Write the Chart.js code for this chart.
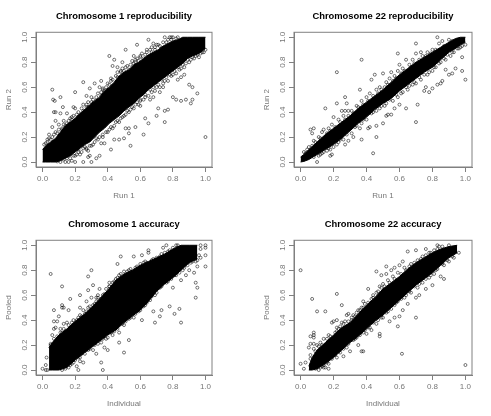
<!DOCTYPE html>
<html>
<head>
<meta charset="utf-8">
<script src="https://cdn.jsdelivr.net/npm/chart.js@4"></script>
<style>
  html, body { margin: 0; background: #fff; overflow: hidden; }
  #wrap { position: relative; width: 491px; height: 416px; filter: blur(0.3px); }
  .cell { position: absolute; width: 245px; height: 208px; }
</style>
</head>
<body>
<div id="wrap">
  <div class="cell" style="left:0;top:0"><canvas id="c1"></canvas></div>
  <div class="cell" style="left:245px;top:0;width:246px"><canvas id="c2"></canvas></div>
  <div class="cell" style="left:0;top:208px"><canvas id="c3"></canvas></div>
  <div class="cell" style="left:245px;top:208px;width:246px"><canvas id="c4"></canvas></div>
</div>
<script>
const ticks = [0, 0.2, 0.4, 0.6, 0.8, 1];

// solid core of each cloud: x, top edge, bottom edge
const rep1X = [0, 0.02, 0.05, 0.08, 0.11, 0.14, 0.17, 0.2, 0.23, 0.26, 0.29, 0.32, 0.35, 0.38, 0.41, 0.44, 0.47, 0.5, 0.53, 0.56, 0.59, 0.62, 0.65, 0.68, 0.71, 0.74, 0.77, 0.8, 0.83, 0.86, 0.89, 0.92, 0.96, 1];
const rep1Top = [0.1, 0.13, 0.16, 0.19, 0.24, 0.29, 0.32, 0.35, 0.39, 0.42, 0.46, 0.49, 0.52, 0.57, 0.6, 0.64, 0.69, 0.72, 0.74, 0.78, 0.8, 0.83, 0.86, 0.88, 0.9, 0.93, 0.95, 0.97, 0.98, 1, 1, 1, 1, 1];
const rep1Low = [0, 0, 0, 0, 0.01, 0.03, 0.05, 0.08, 0.11, 0.14, 0.16, 0.2, 0.24, 0.27, 0.31, 0.34, 0.37, 0.41, 0.44, 0.47, 0.51, 0.54, 0.58, 0.61, 0.64, 0.67, 0.7, 0.73, 0.76, 0.79, 0.83, 0.85, 0.87, 0.91];

const rep22X = [0, 0.02, 0.05, 0.1, 0.15, 0.2, 0.25, 0.3, 0.35, 0.4, 0.45, 0.5, 0.55, 0.6, 0.65, 0.7, 0.75, 0.8, 0.85, 0.9, 0.94, 0.97, 1];
const rep22Top = [0.04, 0.06, 0.1, 0.16, 0.22, 0.27, 0.32, 0.37, 0.43, 0.48, 0.53, 0.58, 0.64, 0.7, 0.75, 0.8, 0.84, 0.88, 0.92, 0.96, 0.99, 1, 1];
const rep22Low = [0, 0.005, 0.02, 0.06, 0.1, 0.14, 0.19, 0.25, 0.31, 0.36, 0.42, 0.47, 0.51, 0.57, 0.62, 0.67, 0.72, 0.76, 0.82, 0.88, 0.91, 0.94, 0.96];

const acc1X = [0.04, 0.06, 0.1, 0.15, 0.2, 0.25, 0.3, 0.35, 0.4, 0.45, 0.5, 0.55, 0.6, 0.65, 0.7, 0.75, 0.8, 0.85, 0.9, 0.95];
const acc1Top = [0.18, 0.22, 0.28, 0.33, 0.39, 0.44, 0.5, 0.57, 0.64, 0.72, 0.77, 0.8, 0.84, 0.87, 0.9, 0.93, 0.97, 1, 1, 1];
const acc1Low = [0, 0, 0, 0.02, 0.08, 0.13, 0.18, 0.23, 0.28, 0.32, 0.38, 0.43, 0.48, 0.55, 0.63, 0.69, 0.74, 0.8, 0.86, 0.89];

const acc22X = [0.05, 0.07, 0.1, 0.15, 0.2, 0.25, 0.3, 0.35, 0.4, 0.45, 0.5, 0.55, 0.6, 0.65, 0.7, 0.75, 0.8, 0.85, 0.9, 0.95];
const acc22Top = [0.03, 0.1, 0.16, 0.22, 0.28, 0.34, 0.38, 0.45, 0.52, 0.58, 0.65, 0.7, 0.75, 0.81, 0.86, 0.9, 0.94, 0.97, 0.99, 1];
const acc22Low = [0, 0, 0.01, 0.05, 0.1, 0.16, 0.22, 0.27, 0.33, 0.39, 0.44, 0.5, 0.56, 0.62, 0.68, 0.73, 0.78, 0.84, 0.9, 0.94];

// individual points
const rep1Points = [
  [0.06,0.58],[0.065,0.5],[0.075,0.49],[0.11,0.52],[0.125,0.44],[0.07,0.4],[0.08,0.4],[0.11,0.39],[0.15,0.39],[0.19,0.44],[0.2,0.43],[0.2,0.56],[0.25,0.64],[0.29,0.59],[0.32,0.63],[0.36,0.65],[0.35,0.6],[0.37,0.59],[0.42,0.67],[0.41,0.85],[0.44,0.82],[0.43,0.77],[0.46,0.76],[0.49,0.8],[0.51,0.9],[0.56,0.85],[0.58,0.94],[0.57,0.82],[0.6,0.84],[0.65,0.98],[0.66,0.85],[0.68,0.95],[0.7,0.94],[0.72,0.93],[0.75,1],[0.78,1],[0.8,1],[0.83,1],[0.3,0.52],[0.25,0.46],[0.27,0.46],[0.27,0.53],[0.17,0.35],[0.13,0.33],[0.08,0.33],[0.06,0.28],[0.1,0.3],[0.04,0.22],[0.03,0.18],[0.02,0.15],
  [1,0.2],[0.95,0.55],[0.85,0.49],[0.88,0.5],[0.91,0.47],[0.92,0.5],[0.9,0.62],[0.92,0.6],[0.8,0.52],[0.82,0.5],[0.75,0.32],[0.77,0.42],[0.75,0.41],[0.71,0.43],[0.7,0.37],[0.62,0.22],[0.63,0.35],[0.65,0.31],[0.54,0.13],[0.53,0.23],[0.53,0.27],[0.51,0.27],[0.57,0.28],[0.42,0.1],[0.47,0.18],[0.44,0.18],[0.5,0.19],[0.38,0.15],[0.36,0.15],[0.35,0.05],[0.33,0.03],[0.3,0],[0.29,0.05],[0.28,0.04],[0.25,0],[0.2,0],[0.16,0],[0.18,0.01],[0.23,0.06],[0.21,0.06],[0.28,0.09],[0.27,0.11],
  [0.05,0.18],[0.08,0.24],[0.12,0.27],[0.14,0.29],[0.16,0.3],[0.18,0.34],[0.22,0.36],[0.24,0.38],[0.26,0.41],[0.28,0.44],[0.31,0.47],[0.33,0.49],[0.36,0.53],[0.38,0.57],[0.41,0.62],[0.43,0.61],[0.46,0.68],[0.48,0.72],[0.5,0.73],[0.53,0.74],[0.56,0.79],[0.59,0.81],[0.62,0.83],[0.64,0.88],[0.67,0.88],[0.69,0.9],[0.73,0.91],[0.76,0.96],[0.79,0.98],[0.82,0.99],
  [0.12,0.05],[0.17,0.06],[0.22,0.1],[0.26,0.12],[0.31,0.14],[0.33,0.19],[0.37,0.22],[0.4,0.24],[0.43,0.27],[0.46,0.33],[0.49,0.36],[0.52,0.41],[0.55,0.44],[0.58,0.48],[0.6,0.5],[0.63,0.54],[0.66,0.58],[0.68,0.6],[0.71,0.62],[0.73,0.66],[0.76,0.68],[0.78,0.7],[0.81,0.73],[0.83,0.76],[0.86,0.78],[0.89,0.82],[0.92,0.84],[0.95,0.86],[0.98,0.88],[0.72,0.56],[0.74,0.6],[0.68,0.52],[0.6,0.45],[0.66,0.5],[0.85,0.68],[0.87,0.7],[0.83,0.66],
  [0.01,0.14],[0.03,0.16],[0.04,0.19],[0.06,0.2],[0.07,0.22],[0.09,0.23],[0.1,0.26],[0.12,0.26],[0.13,0.3],[0.15,0.31],[0.16,0.33],[0.18,0.36],[0.19,0.37],[0.21,0.38],[0.22,0.4],[0.24,0.43],[0.25,0.41],[0.27,0.44],[0.28,0.48],[0.3,0.48],[0.31,0.5],[0.33,0.52],[0.34,0.55],[0.36,0.56],[0.37,0.58],[0.39,0.6],[0.4,0.63],[0.42,0.65],[0.43,0.66],[0.45,0.69],[0.46,0.72],[0.48,0.73],[0.49,0.75],[0.51,0.76],[0.52,0.77],[0.54,0.78],[0.55,0.81],[0.57,0.8],[0.58,0.83],[0.6,0.85],[0.61,0.87],[0.63,0.86],[0.64,0.9],[0.66,0.9],[0.67,0.92],[0.69,0.92],[0.71,0.94],[0.74,0.96],[0.77,0.98],[0.79,1],
  [0.09,0.005],[0.11,0],[0.13,0.02],[0.14,0],[0.15,0.03],[0.17,0.03],[0.19,0.05],[0.2,0.05],[0.22,0.08],[0.24,0.08],[0.25,0.11],[0.27,0.1],[0.29,0.13],[0.3,0.13],[0.32,0.16],[0.34,0.18],[0.35,0.2],[0.37,0.2],[0.39,0.24],[0.41,0.26],[0.42,0.28],[0.44,0.29],[0.45,0.32],[0.47,0.32],[0.48,0.35],[0.5,0.37],[0.51,0.38],[0.53,0.4],[0.54,0.42],[0.56,0.43],[0.57,0.46],[0.59,0.46],[0.6,0.49],[0.62,0.5],[0.63,0.52],[0.65,0.53],[0.67,0.56],[0.69,0.57],[0.7,0.6],[0.72,0.6],[0.74,0.63],[0.75,0.65],[0.77,0.65],[0.79,0.69],[0.8,0.7],[0.82,0.71],[0.84,0.74],[0.85,0.75],[0.87,0.76],[0.88,0.79],[0.9,0.8],[0.91,0.82],[0.93,0.83],[0.94,0.85],[0.96,0.84],[0.97,0.87],[0.99,0.88],[1,0.9]
];

const rep22Points = [
  [0.37,0.82],[0.22,0.72],[0.59,0.87],[0.7,0.95],[0.83,1],[0.7,0.32],[0.71,0.46],[0.44,0.07],[0.1,0],[0.46,0.2],[0.37,0.18],[0.15,0.43],[0.06,0.26],[0.08,0.27],[0.07,0.23],[1,0.66],[0.98,0.73],[0.94,0.75],[0.98,0.84],[0.5,0.31],[0.55,0.38],[0.57,0.43],[0.64,0.43],[0.75,0.57],[0.76,0.6],[0.78,0.56],[0.8,0.59],[0.83,0.62],[0.85,0.63],[0.86,0.65],[0.9,0.7],[0.92,0.71],[0.88,0.74],[0.36,0.58],[0.43,0.66],[0.45,0.7],[0.5,0.71],[0.55,0.72],[0.59,0.73],[0.64,0.82],[0.6,0.78],[0.7,0.87],[0.73,0.88],[0.22,0.47],[0.27,0.52],[0.28,0.47],[0.29,0.41],[0.25,0.41],[0.27,0.41],[0.2,0.36],[0.18,0.1],[0.19,0.06],[0.18,0.05],[0.27,0.14],[0.29,0.17],[0.32,0.2],[0.36,0.27],[0.41,0.27],[0.42,0.28],[0.46,0.29],[0.53,0.38],[0.52,0.37],[0.6,0.46],
  [0.03,0.07],[0.05,0.12],[0.08,0.17],[0.11,0.2],[0.13,0.24],[0.14,0.26],[0.17,0.27],[0.19,0.3],[0.23,0.34],[0.26,0.37],[0.31,0.41],[0.34,0.45],[0.37,0.49],[0.4,0.52],[0.42,0.55],[0.46,0.58],[0.48,0.6],[0.52,0.64],[0.54,0.67],[0.57,0.69],[0.62,0.75],[0.66,0.78],[0.68,0.82],[0.74,0.85],[0.77,0.88],[0.8,0.9],[0.84,0.95],[0.86,0.97],[0.9,0.98],
  [0.08,0.04],[0.12,0.06],[0.14,0.08],[0.17,0.11],[0.22,0.14],[0.24,0.18],[0.28,0.22],[0.33,0.28],[0.38,0.34],[0.43,0.39],[0.48,0.43],[0.51,0.45],[0.56,0.49],[0.59,0.52],[0.62,0.56],[0.65,0.58],[0.68,0.62],[0.7,0.63],[0.73,0.66],[0.77,0.7],[0.8,0.73],[0.82,0.76],[0.85,0.8],[0.88,0.82],[0.91,0.85],[0.93,0.88],[0.96,0.91],[0.98,0.93],[1,0.94],
  [0.02,0.08],[0.04,0.1],[0.07,0.13],[0.09,0.16],[0.12,0.19],[0.16,0.23],[0.18,0.25],[0.21,0.28],[0.24,0.32],[0.27,0.34],[0.29,0.37],[0.32,0.39],[0.35,0.44],[0.38,0.46],[0.41,0.49],[0.44,0.53],[0.47,0.55],[0.49,0.58],[0.51,0.6],[0.53,0.62],[0.56,0.65],[0.58,0.67],[0.61,0.71],[0.63,0.73],[0.67,0.76],[0.69,0.79],[0.72,0.82],[0.76,0.85],[0.79,0.87],[0.82,0.9],[0.87,0.93],[0.92,0.97],
  [0.11,0.05],[0.13,0.07],[0.16,0.09],[0.2,0.12],[0.23,0.16],[0.26,0.18],[0.31,0.23],[0.34,0.29],[0.37,0.31],[0.4,0.34],[0.44,0.4],[0.46,0.41],[0.49,0.45],[0.52,0.47],[0.54,0.5],[0.58,0.54],[0.61,0.55],[0.64,0.6],[0.66,0.61],[0.69,0.64],[0.72,0.68],[0.75,0.7],[0.78,0.72],[0.81,0.76],[0.84,0.79],[0.87,0.83],[0.89,0.86],[0.92,0.88],[0.95,0.91],[0.97,0.92]
];

const acc1Points = [
  [0.05,0.77],[0.12,0.67],[0.3,0.8],[0.28,0.75],[0.17,0.57],[0.23,0.6],[0.28,0.64],[0.31,0.68],[0.35,0.65],[0.41,0.67],[0.41,0.7],[0.45,0.73],[0.46,0.85],[0.48,0.91],[0.56,0.91],[0.61,0.92],[0.65,0.96],[0.65,0.94],[0.74,0.98],[0.76,1],[0.83,1],[0.97,1],[1,1],[1,0.98],[0.97,0.97],[1,0.92],[1,0.83],[0.95,0.83],[0.94,0.7],[0.95,0.66],[0.94,0.58],[0.85,0.38],[0.84,0.49],[0.81,0.45],[0.78,0.51],[0.69,0.38],[0.72,0.43],[0.73,0.48],[0.68,0.47],[0.61,0.4],[0.5,0.14],[0.47,0.22],[0.53,0.24],[0.4,0.16],[0.37,0],[0.36,0.06],[0.33,0.13],[0.38,0.18],[0.22,0],[0.21,0.03],[0.23,0.07],[0.25,0.06],[0,0.01],[0.02,0],[0.03,0],[0.02,0.04],[0.025,0.1],[0.05,0.2],[0.05,0.18],[0.06,0.28],[0.07,0.33],[0.08,0.34],[0.07,0.39],[0.07,0.48],[0.12,0.5],[0.12,0.52],[0.13,0.5],[0.16,0.48],[0.1,0.43],[0.09,0.39],[0.11,0.33],[0.13,0.37],[0.15,0.38],[0.23,0.5],[0.25,0.48],[0.27,0.55],[0.3,0.58],[0.33,0.58],[0.34,0.6],
  [0.09,0.27],[0.12,0.3],[0.17,0.34],[0.19,0.4],[0.22,0.42],[0.26,0.45],[0.29,0.51],[0.32,0.53],[0.36,0.57],[0.38,0.61],[0.42,0.64],[0.44,0.71],[0.47,0.76],[0.5,0.79],[0.53,0.8],[0.57,0.82],[0.6,0.85],[0.63,0.87],[0.67,0.88],[0.7,0.9],[0.73,0.93],[0.77,0.95],[0.8,0.98],[0.83,0.98],
  [0.17,0.04],[0.2,0.08],[0.24,0.13],[0.28,0.16],[0.32,0.2],[0.36,0.22],[0.4,0.26],[0.43,0.28],[0.47,0.3],[0.5,0.36],[0.53,0.41],[0.56,0.42],[0.59,0.47],[0.63,0.52],[0.66,0.56],[0.69,0.6],[0.72,0.66],[0.76,0.7],[0.79,0.73],[0.82,0.76],[0.86,0.8],[0.89,0.84],[0.92,0.87],[0.95,0.88],[0.97,0.9],[0.85,0.72],[0.88,0.76],[0.9,0.8],[0.93,0.78],[0.8,0.66],
  [0.05,0.21],[0.07,0.25],[0.08,0.23],[0.11,0.3],[0.13,0.33],[0.14,0.31],[0.16,0.36],[0.18,0.38],[0.21,0.4],[0.23,0.44],[0.24,0.43],[0.27,0.47],[0.28,0.5],[0.31,0.52],[0.33,0.55],[0.34,0.58],[0.37,0.6],[0.39,0.65],[0.41,0.67],[0.43,0.7],[0.46,0.74],[0.48,0.77],[0.52,0.79],[0.54,0.81],[0.58,0.83],[0.62,0.86],[0.64,0.86],[0.68,0.89],[0.72,0.91],[0.75,0.94],[0.78,0.96],[0.82,1],
  [0.12,0],[0.14,0.01],[0.16,0.02],[0.18,0.05],[0.19,0.06],[0.22,0.1],[0.23,0.1],[0.26,0.13],[0.29,0.17],[0.31,0.16],[0.34,0.21],[0.37,0.25],[0.39,0.25],[0.42,0.3],[0.44,0.31],[0.46,0.33],[0.49,0.37],[0.51,0.39],[0.54,0.42],[0.57,0.45],[0.6,0.48],[0.62,0.51],[0.64,0.54],[0.67,0.59],[0.7,0.62],[0.73,0.67],[0.77,0.71],[0.81,0.76],[0.84,0.78],[0.87,0.82],[0.91,0.86],[0.94,0.87],[0.96,0.92]
];

const acc22Points = [
  [0,0.8],[0,0.05],[1,0.04],[0.07,0.57],[0.1,0.47],[0.15,0.47],[0.22,0.61],[0.25,0.52],[0.7,0.42],[0.615,0.13],[0.46,0.79],[0.52,0.83],[0.59,0.35],[0.57,0.42],[0.87,0.73],[0.65,0.95],[0.7,0.96],[0.76,0.97],[0.83,1],[0.02,0.01],[0.03,0.06],[0.06,0.27],[0.08,0.3],[0.08,0.28],[0.08,0.26],[0.06,0.21],[0.08,0.21],[0.05,0.18],[0.17,0.01],[0.15,0.02],[0.14,0.02],[0.19,0.38],[0.2,0.39],[0.22,0.34],[0.22,0.4],[0.25,0.38],[0.28,0.44],[0.29,0.45],[0.31,0.42],[0.35,0.48],[0.38,0.55],[0.41,0.65],[0.44,0.6],[0.49,0.76],[0.52,0.77],[0.55,0.8],[0.57,0.82],[0.6,0.84],[0.62,0.87],[0.48,0.29],[0.48,0.27],[0.43,0.32],[0.4,0.29],[0.35,0.2],[0.37,0.15],[0.38,0.15],[0.3,0.15],[0.26,0.11],[0.54,0.39],[0.6,0.43],[0.62,0.48],[0.65,0.53],[0.7,0.58],[0.72,0.6],[0.76,0.65],[0.8,0.68],[0.85,0.75],
  [0.06,0.12],[0.08,0.17],[0.1,0.2],[0.12,0.22],[0.14,0.25],[0.17,0.28],[0.21,0.3],[0.24,0.35],[0.27,0.39],[0.32,0.44],[0.34,0.46],[0.37,0.5],[0.39,0.53],[0.43,0.57],[0.46,0.62],[0.48,0.67],[0.5,0.69],[0.53,0.72],[0.56,0.75],[0.59,0.78],[0.63,0.82],[0.67,0.85],[0.71,0.88],[0.74,0.91],[0.78,0.94],[0.81,0.96],[0.84,0.99],
  [0.11,0],[0.13,0.03],[0.17,0.05],[0.22,0.1],[0.24,0.14],[0.28,0.18],[0.33,0.25],[0.38,0.3],[0.42,0.34],[0.46,0.37],[0.5,0.42],[0.53,0.47],[0.57,0.52],[0.59,0.55],[0.63,0.58],[0.67,0.62],[0.71,0.66],[0.74,0.7],[0.78,0.74],[0.81,0.77],[0.83,0.81],[0.87,0.84],[0.9,0.87],[0.93,0.9],[0.96,0.94],
  [0.06,0.09],[0.09,0.15],[0.11,0.19],[0.13,0.2],[0.16,0.25],[0.18,0.27],[0.22,0.31],[0.23,0.33],[0.26,0.37],[0.29,0.39],[0.31,0.4],[0.33,0.43],[0.36,0.48],[0.38,0.5],[0.41,0.54],[0.44,0.58],[0.47,0.63],[0.49,0.66],[0.51,0.67],[0.54,0.7],[0.57,0.73],[0.61,0.77],[0.64,0.8],[0.66,0.83],[0.69,0.86],[0.73,0.89],[0.76,0.92],[0.79,0.94],[0.83,0.97],[0.86,0.99],[0.9,1],
  [0.09,0.01],[0.12,0.02],[0.14,0.04],[0.16,0.06],[0.19,0.09],[0.21,0.12],[0.23,0.15],[0.26,0.17],[0.29,0.21],[0.32,0.24],[0.34,0.26],[0.36,0.28],[0.39,0.32],[0.41,0.34],[0.44,0.38],[0.47,0.4],[0.49,0.42],[0.52,0.46],[0.55,0.49],[0.58,0.54],[0.61,0.57],[0.64,0.6],[0.66,0.63],[0.69,0.67],[0.72,0.69],[0.76,0.73],[0.79,0.76],[0.82,0.8],[0.86,0.85],[0.89,0.88],[0.92,0.91]
];

// draws the closed R style box round the plot
const boxPlugin = {
  id: 'box',
  afterDraw(chart) {
    const a = chart.chartArea, c = chart.ctx;
    c.save();
    c.strokeStyle = '#808080';
    c.lineWidth = 1;
    c.strokeRect(a.left, a.top, a.right - a.left, a.bottom - a.top);
    c.restore();
  }
};

function zip(xs, ys) {
  return xs.map((x, i) => ({ x: x, y: ys[i] }));
}

function panel(id, title, xLabel, yLabel, bandX, bandTop, bandLow, points, padLeft, padRight) {
  new Chart(document.getElementById(id), {
    type: 'line',
    data: {
      datasets: [
        { data: zip(bandX, bandTop), fill: '+1', backgroundColor: '#000', borderColor: '#000', borderWidth: 1, pointRadius: 0, tension: 0 },
        { data: zip(bandX, bandLow), fill: false, borderColor: '#000', borderWidth: 1, pointRadius: 0, tension: 0 },
        {
          data: points.map(p => ({ x: p[0], y: p[1] })),
          showLine: false, fill: false,
          pointRadius: 1.5, pointBorderWidth: 0.9,
          pointBackgroundColor: 'rgba(255,255,255,0)',
          pointBorderColor: 'rgba(0,0,0,0.6)'
        }
      ]
    },
    options: {
      responsive: false,
      animation: false,
      layout: { padding: { left: padLeft, right: padRight, top: 0, bottom: 0 } },
      plugins: {
        legend: { display: false },
        tooltip: { enabled: false },
        title: {
          display: true, text: title, color: '#000', fullSize: false,
          font: { family: 'Liberation Sans', size: 9.4, weight: 'bold' },
          padding: { top: 11, bottom: 10 }
        }
      },
      scales: {
        x: {
          type: 'linear', min: -0.04, max: 1.04,
          afterBuildTicks: s => { s.ticks = ticks.map(v => ({ value: v })); },
          afterFit: s => { s.height = 41; },
          grid: { drawOnChartArea: false, color: '#808080', tickLength: 5 },
          border: { color: '#808080' },
          ticks: { color: '#777', padding: 2, maxRotation: 0, font: { family: 'Liberation Sans', size: 8 }, callback: v => v.toFixed(1) },
          title: { display: true, text: xLabel, color: '#777', padding: { top: 7, bottom: 7 }, font: { family: 'Liberation Sans', size: 8 } }
        },
        y: {
          type: 'linear', min: -0.04, max: 1.04,
          afterBuildTicks: s => { s.ticks = ticks.map(v => ({ value: v })); },
          afterFit: s => { s.width = 36; },
          grid: { drawOnChartArea: false, color: '#808080', tickLength: 5 },
          border: { color: '#808080' },
          ticks: { color: '#777', padding: 1, minRotation: 90, maxRotation: 90, crossAlign: 'center', font: { family: 'Liberation Sans', size: 8 }, callback: v => v.toFixed(1) },
          title: { display: true, text: yLabel, color: '#777', padding: { top: 4, bottom: 4 }, font: { family: 'Liberation Sans', size: 8 } }
        }
      }
    },
    plugins: [boxPlugin]
  });
}

const sizes = { c1: 245, c2: 246, c3: 245, c4: 246 };
Object.keys(sizes).forEach(id => {
  const el = document.getElementById(id);
  el.width = sizes[id];
  el.height = 208;
});

panel('c1', 'Chromosome 1 reproducibility', 'Run 1', 'Run 2', rep1X, rep1Top, rep1Low, rep1Points, 0, 33);
panel('c2', 'Chromosome 22 reproducibility', 'Run 1', 'Run 2', rep22X, rep22Top, rep22Low, rep22Points, 13, 19);
panel('c3', 'Chromosome 1 accuracy', 'Individual', 'Pooled', acc1X, acc1Top, acc1Low, acc1Points, 0, 33);
panel('c4', 'Chromosome 22 accuracy', 'Individual', 'Pooled', acc22X, acc22Top, acc22Low, acc22Points, 13, 19);
</script>
</body>
</html>
